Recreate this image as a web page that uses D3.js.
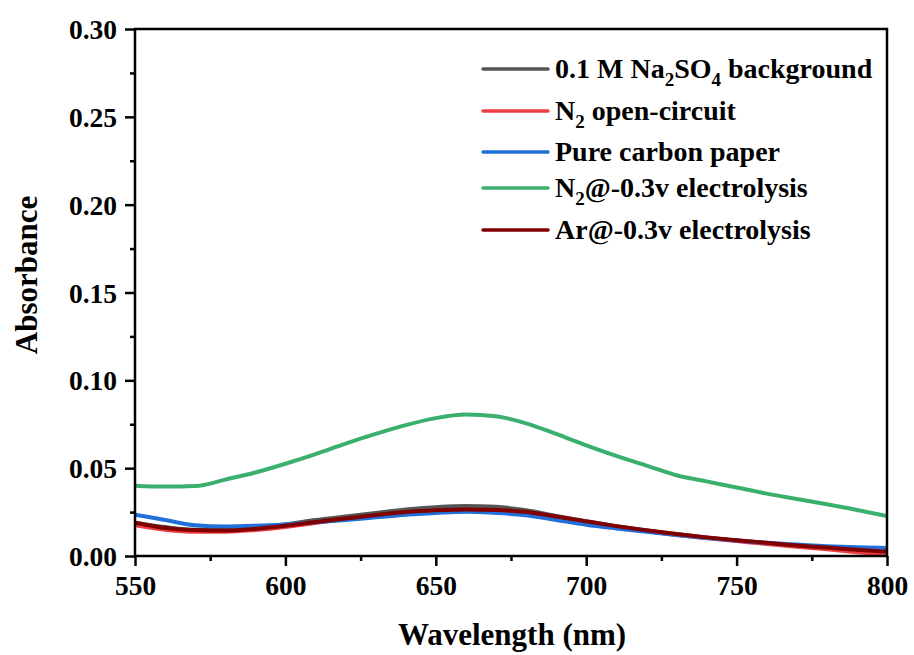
<!DOCTYPE html>
<html>
<head>
<meta charset="utf-8">
<script src="https://cdn.jsdelivr.net/npm/d3@7"></script>
<style>
  html, body { margin: 0; padding: 0; background: #fff; }
  svg text { font-family: "Liberation Serif", "Times New Roman", serif; font-weight: bold; fill: #000; }
</style>
</head>
<body>
<svg id="chart" width="914" height="655"></svg>
<script>
// Wavelength grid (nm)
const wavelengths = [550,560,570,580,590,600,610,620,630,640,650,660,670,680,690,700,710,720,730,740,750,760,770,780,790,800];

// Absorbance spectra
const background = [0.019,0.0165,0.015,0.0155,0.0165,0.018,0.0205,0.0225,0.0245,0.0265,0.0278,0.0285,0.028,0.026,0.0228,0.0198,0.017,0.0145,0.0125,0.0105,0.0088,0.0072,0.0058,0.0045,0.003,0.0018];
const n2OpenCircuit = [0.0175,0.015,0.0138,0.0138,0.0148,0.0165,0.0188,0.021,0.0228,0.0243,0.0255,0.026,0.0258,0.0245,0.022,0.0193,0.0165,0.0142,0.012,0.0102,0.0085,0.0068,0.0052,0.0038,0.0022,0.0008];
const carbonPaper = [0.0235,0.0205,0.0175,0.0168,0.0172,0.018,0.0192,0.0205,0.022,0.0235,0.0245,0.0252,0.0245,0.0232,0.0205,0.0178,0.0157,0.0138,0.012,0.0103,0.0088,0.0075,0.0065,0.0056,0.005,0.0045];
const n2Electrolysis = [0.040,0.0395,0.0398,0.0435,0.0475,0.0525,0.058,0.064,0.0695,0.0745,0.0785,0.0805,0.0795,0.0755,0.0695,0.063,0.057,0.0515,0.046,0.0425,0.039,0.0355,0.0325,0.0295,0.0262,0.0228];
const arElectrolysis = [0.019,0.016,0.0148,0.0145,0.0155,0.0172,0.0193,0.0213,0.0233,0.025,0.026,0.0265,0.0262,0.025,0.0225,0.0197,0.017,0.0146,0.0125,0.0106,0.009,0.0075,0.006,0.0048,0.0035,0.0025];

const xTicks = [550,600,650,700,750,800];
const yTicks = [0.00,0.05,0.10,0.15,0.20,0.25,0.30];

const series = [
  { values: background,     color: "#555555", label: [["0.1 M Na"],["2","sub"],["SO"],["4","sub"],[" background"]] },
  { values: n2OpenCircuit,  color: "#ee3f42", label: [["N"],["2","sub"],[" open-circuit"]] },
  { values: carbonPaper,    color: "#2170da", label: [["Pure carbon paper"]] },
  { values: n2Electrolysis, color: "#3bb06e", label: [["N"],["2","sub"],["@-0.3v electrolysis"]] },
  { values: arElectrolysis, color: "#800000", label: [["Ar@-0.3v electrolysis"]] }
];

const svg = d3.select("#chart");
const L = 135, R = 887, T = 29, B = 556;

const x = d3.scaleLinear().domain([550, 800]).range([L, R]);
const y = d3.scaleLinear().domain([0, 0.30]).range([B, T]);

// Clip spectra to the plot frame
svg.append("clipPath").attr("id", "plotClip")
  .append("rect").attr("x", L).attr("y", T).attr("width", R - L).attr("height", B - T);

const line = d3.line()
  .x((d, i) => x(wavelengths[i]))
  .y(d => y(d))
  .curve(d3.curveMonotoneX);

const gLines = svg.append("g").attr("clip-path", "url(#plotClip)");
series.forEach(s => {
  gLines.append("path")
    .attr("d", line(s.values))
    .attr("fill", "none")
    .attr("stroke", s.color)
    .attr("stroke-width", 4)
    .attr("stroke-linejoin", "round");
});

// Axes with major and minor ticks
const xMinor = d3.range(575, 800, 50);
const yMinor = d3.range(0.025, 0.30, 0.05);

const xAxis = svg.append("g").attr("transform", `translate(0,${B})`)
  .call(d3.axisBottom(x).tickValues(xTicks).tickFormat(d3.format("d")).tickSize(10).tickPadding(8));
svg.append("g").attr("transform", `translate(0,${B})`)
  .call(d3.axisBottom(x).tickValues(xMinor).tickFormat("").tickSize(5));

const yAxis = svg.append("g").attr("transform", `translate(${L},0)`)
  .call(d3.axisLeft(y).tickValues(yTicks).tickFormat(d3.format(".2f")).tickSize(10).tickPadding(8));
svg.append("g").attr("transform", `translate(${L},0)`)
  .call(d3.axisLeft(y).tickValues(yMinor).tickFormat("").tickSize(5));

svg.selectAll(".domain").remove();
svg.selectAll(".tick line").style("stroke", "#000").style("stroke-width", "2.5px");
xAxis.selectAll(".tick text").attr("font-size", 27.5).attr("dy", "0.75em");
yAxis.selectAll(".tick text").attr("font-size", 27.5).attr("dy", "0.35em");
svg.selectAll(".tick text")
  .style("font-family", "'Liberation Serif', serif")
  .style("font-weight", "bold").attr("fill", "#000");

// Frame
svg.append("rect")
  .attr("x", L).attr("y", T).attr("width", R - L).attr("height", B - T)
  .attr("fill", "none").attr("stroke", "#000").attr("stroke-width", 2.5);

// Axis titles
svg.append("text")
  .attr("x", 512).attr("y", 645)
  .attr("text-anchor", "middle").attr("font-size", 31)
  .text("Wavelength (nm)");
svg.append("text")
  .attr("transform", `translate(37,275) rotate(-90)`)
  .attr("text-anchor", "middle").attr("font-size", 31)
  .text("Absorbance");

// Legend
const legendRows = [69, 111, 152, 188, 230];
const legend = svg.append("g");
series.forEach((s, i) => {
  const ry = legendRows[i];
  legend.append("line")
    .attr("x1", 483).attr("x2", 548).attr("y1", ry).attr("y2", ry)
    .attr("stroke", s.color).attr("stroke-width", 3.5).attr("stroke-linecap", "round");
  const t = legend.append("text").attr("x", 555).attr("y", ry + 9).attr("font-size", 28);
  let shift = 0;
  s.label.forEach(([txt, kind]) => {
    if (kind === "sub") {
      t.append("tspan").attr("font-size", 19).attr("dy", 8 - shift).text(txt);
      shift = 8;
    } else {
      t.append("tspan").attr("dy", -shift).text(txt);
      shift = 0;
    }
  });
});
</script>
</body>
</html>
